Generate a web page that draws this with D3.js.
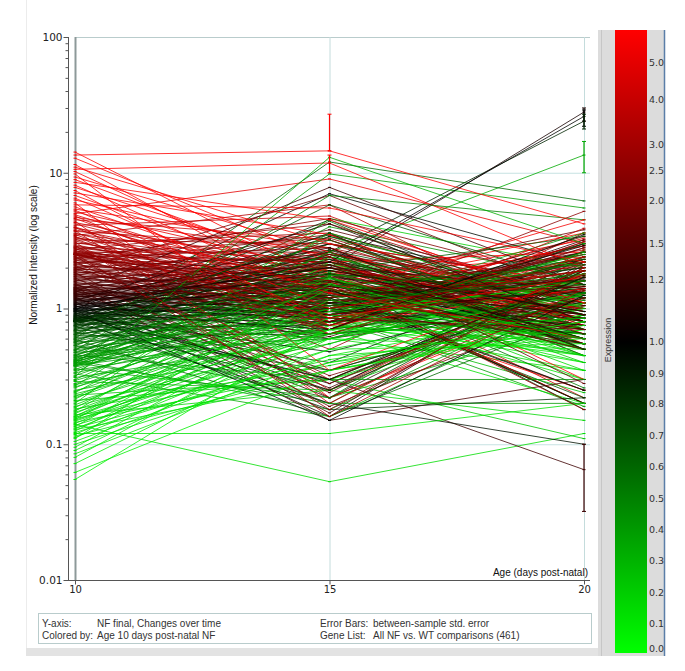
<!DOCTYPE html>
<html><head><meta charset="utf-8">
<script src="https://cdn.jsdelivr.net/npm/d3@7"></script>
<style>body{margin:0;background:#fff;} svg{display:block;font-family:"Liberation Sans",sans-serif;}</style>
</head><body><svg id="c" width="685" height="671"></svg>
<script>
const days = [10, 15, 20];
const yTicks = [0.01, 0.1, 1, 10, 100];
const yTickLabels = ["0.01", "0.1", "1", "10", "100"];
const colorTicks = [5.0, 4.0, 3.0, 2.5, 2.0, 1.5, 1.2, 1.0, 0.9, 0.8, 0.7, 0.6, 0.5, 0.4, 0.3, 0.2, 0.1, 0.0];
const colorTickLabels = ["5.0","4.0","3.0","2.5","2.0","1.5","1.2","1.0","0.9","0.8","0.7","0.6","0.5","0.4","0.3","0.2","0.1","0.0"];
const legendLabels = ["Y-axis:", "Colored by:", "Error Bars:", "Gene List:"];
const legendValues = ["NF final, Changes over time", "Age 10 days post-natal NF", "between-sample std. error", "All NF vs. WT comparisons (461)"];

// Normalized intensity per gene (estimated), day 10 / 15 / 20
const day10 = [
 14.2,13.5,12.8,11.5,11,10.6,10.2,9.8,9.3,8.9, 8.5,8.1,7.8,7.4,7.1,6.8,6.5,6.3,6.0,5.8, 5.6,5.4,5.3,5.15,5.0,
 4.9,4.8,4.7,4.6,4.5,4.4,4.3,4.2,4.1,4.0, 3.95,3.9,3.8,3.75,3.7,3.6,3.55,3.5,3.45,3.4,
 3.35,3.3,3.25,3.2,3.15,3.1,3.05,3.0,2.95,2.9, 2.88,2.85,2.82,2.8,2.77,2.74,2.71,2.68,2.65,2.62,
 2.6,2.58,2.56,2.54,2.53,2.52,2.51,2.5,2.5,2.5,
 2.48,2.45,2.42,2.4,2.38,2.35,2.33,2.3,2.28,2.25, 2.22,2.2,2.18,2.15,2.12,2.1,2.08,2.05,2.02,2.0,
 1.98,1.96,1.94,1.92,1.9,1.88,1.86,1.84,1.82,1.8, 1.78,1.76,1.74,1.72,1.7,1.68,1.66,1.64,1.62,1.6,
 1.58,1.56,1.54,1.52,1.5,1.49,1.47,1.46,1.44,1.43, 1.42,1.41,1.4,1.39,1.38,1.37,1.36,1.35,1.34,1.33,
 1.32,1.31,1.3,1.29,1.28,1.27,1.26,1.25,1.24,1.23,
 1.22,1.21,1.2,1.19,1.18,1.17,1.16,1.15,1.14,1.13, 1.12,1.11,1.1,1.09,1.08,1.07,1.06,1.05,1.04,1.03,
 1.02,1.01,1.0,0.995,0.99,0.98,0.975,0.97,0.96,0.955, 0.95,0.94,0.93,0.92,0.91,0.9,0.895,0.89,0.88,0.875,
 0.87,0.86,0.855,0.85,0.845,0.84,0.835,0.83,0.825,0.82, 0.818,0.815,0.812,0.81,0.808,0.806,0.804,0.802,0.801,0.8,
 0.79,0.78,0.77,0.76,0.75,0.745,0.74,0.73,0.72,0.71, 0.7,0.69,0.685,0.68,0.67,0.66,0.65,0.645,0.64,0.63,
 0.62,0.61,0.6,0.595,0.59,0.58,0.57,0.565,0.56,0.55, 0.54,0.535,0.53,0.52,0.51,0.5,0.495,0.49,0.48,0.475,
 0.47,0.46,0.455,0.45,0.445,0.44,0.435,0.43,0.425,0.42, 0.418,0.414,0.41,0.407,0.404,0.4,0.397,0.394,0.391,0.388,
 0.385,0.382,0.38,0.378,0.375,
 0.37,0.36,0.355,0.35,0.34,0.335,0.33,0.32,0.315,0.31, 0.3,0.295,0.29,0.28,0.275,0.27,0.265,0.26,0.25,0.245,
 0.24,0.235,0.23,0.225,0.22,0.215,0.21,0.205,0.2,0.195, 0.19,0.186,0.182,0.178,0.175,0.172,0.168,0.165,0.162,0.16,
 0.158,0.156,0.154,0.152,0.15,
 0.148,0.145,0.142,0.14,0.138,0.135,0.132,0.13,0.128,0.125, 0.122,0.12,0.118,0.115,0.112,0.11,0.105,0.1,0.095,0.09,
 0.085,0.08,0.072,0.062,0.055
];
const day15 = [
 1.6,14.5,2.2,1.1,3.0,11.8,1.4,0.35,2.6,1.8, 4.5,1.2,2.0,0.75,3.5,1.5,1.0,2.4,0.22,5.5, 1.3,2.8,0.85,1.9,9.0,
 1.3,0.8,2.5,1.0,3.2,0.2,1.8,1.4,4.8,0.9, 0.7,2.1,1.6,0.25,2.8,1.2,2.0,0.85,5.8,0.65,
 1.5,1.9,0.75,3.0,1.1,0.16,1.7,3.6,1.25,0.3, 1.45,2.3,0.95,1.8,0.5,1.15,4.2,0.8,1.6,1.05,
 2.6,0.7,1.35,2.2,0.18,1.0,1.55,0.9,3.3,1.2,
 1.0,2.2,0.22,1.4,2.8,0.8,1.6,4.6,0.95,1.9, 0.28,1.2,2.3,0.7,3.5,1.5,0.32,1.7,0.9,2.5,
 1.3,0.65,2.0,1.1,6.8,0.85,1.55,0.19,2.4,1.2, 0.75,3.2,1.4,0.95,1.9,0.24,1.25,2.2,0.8,1.6,
 3.8,1.0,0.17,1.8,1.35,0.7,2.7,1.15,0.15,1.5, 2.1,0.9,0.62,1.45,2.6,1.05,0.26,1.75,0.8,1.2,
 7.8,0.95,0.3,2.0,1.3,0.85,1.6,0.6,2.4,1.1,
 1.5,0.22,2.2,1.0,0.35,2.8,1.25,0.75,4.2,1.7, 0.16,2.0,0.9,2.0,0.65,1.4,3.5,0.25,1.1,1.8,
 3.0,0.85,1.5,0.28,2.2,0.95,7.0,0.15,1.2,2.6, 0.7,1.6,0.2,1.9,1.05,3.0,0.3,1.35,0.9,2.4,
 0.48,1.15,2.6,0.8,1.7,0.3,1.45,2.1,0.65,1.25, 4.5,0.95,0.18,1.8,0.6,1.5,2.5,0.4,1.0,3.4,
 1.4,0.25,2.3,0.9,3.6,1.1,0.2,1.8,0.75,2.7, 1.2,5.8,0.8,1.55,0.35,2.1,1.0,3.2,1.3,0.65,
 1.9,0.85,12.0,1.15,0.16,2.5,1.45,0.7,4.4,1.05, 1.7,0.22,3.0,1.25,0.8,2.0,0.95,6.8,1.35,0.6,
 2.2,1.1,0.3,1.65,4.0,0.9,1.5,0.7,2.6,1.2, 0.18,1.85,1.0,3.4,1.4,0.2,2.1,0.8,1.6,9.8,
 1.1,0.65,2.4,0.9,1.75,
 1.0,0.22,1.7,0.7,2.6,0.9,0.16,1.4,13.0,0.6, 2.0,1.0,0.25,1.2,0.65,3.6,0.8,1.5,0.55,1.1,
 2.4,0.7,0.3,1.3,0.95,1.8,0.3,0.75,4.6,1.05, 0.6,1.55,0.38,0.85,2.2,0.65,1.15,0.25,0.8,1.4,
 0.55,1.0,0.42,1.7,0.7,
 0.6,0.35,0.9,0.053,0.5,1.4,0.4,0.7,0.3,1.1, 0.45,0.12,0.8,0.35,0.65,1.7,0.5,0.4,1.0,0.7,
 0.45,0.85,0.6,0.35,0.75
];
const day20 = [
 0.9,4.2,2.6,0.25,1.5,2.0,3.2,1.8,0.7,2.4, 1.1,2.9,0.55,1.4,0.8,3.6,1.9,0.3,1.2,2.2, 4.5,0.65,1.7,1.0,3.0,
 0.6,2.4,1.1,3.3,0.75,1.8,0.22,2.7,1.0,1.5, 3.9,0.85,1.3,2.0,0.55,2.9,0.95,1.6,0.7,2.2,
 0.2,1.2,3.1,0.8,1.9,1.4,0.6,1.05,2.5,1.7, 0.9,0.5,2.1,1.25,3.6,0.7,1.1,2.3,0.18,1.45,
 0.8,2.8,1.0,0.6,1.9,5.2,0.75,1.35,0.95,2.0,
 1.9,0.7,1.3,0.5,1.1,2.6,0.8,1.5,3.4,0.6, 1.6,2.2,0.9,3.1,0.75,0.2,1.2,2.0,0.65,1.4,
 0.55,1.8,0.95,2.5,1.25,0.7,3.8,1.05,0.28,1.7, 2.3,0.8,0.6,1.35,0.9,2.0,0.25,1.15,2.8,0.75,
 1.3,0.55,2.1,0.85,1.6,3.0,0.7,1.45,0.3,1.0, 0.65,1.75,2.4,0.9,0.5,1.2,1.9,0.8,1.05,2.6,
 1.5,0.6,0.065,1.4,0.85,2.2,0.7,1.1,0.45,1.65,
 0.7,1.9,0.9,2.6,1.2,0.5,1.6,3.2,0.8,1.1, 2.2,0.6,1.4,28,1.0,0.2,1.3,2.4,0.75,0.55,
 1.5,2.9,0.65,1.8,26,0.85,2.1,1.25,0.25,1.0, 3.5,0.6,0.1,0.95,2.0,1.2,1.7,0.5,2.6,0.8,
 1.4,0.7,24,1.1,0.18,1.9,0.9,0.6,2.3,1.5, 0.8,3.0,0.22,1.3,1.9,0.55,1.0,2.2,0.65,1.2,
 0.6,1.7,0.9,2.4,0.5,1.3,2.0,0.75,3.0,1.1, 0.22,1.5,2.6,0.8,1.2,0.55,1.9,0.7,2.3,1.0,
 3.4,0.65,6.2,1.6,0.9,0.5,2.1,1.25,0.7,1.8, 0.26,2.7,1.05,0.6,1.45,0.85,2.2,4.5,0.55,1.3,
 0.95,1.9,0.3,0.7,1.6,2.5,0.8,1.15,0.45,2.0, 1.35,0.6,3.6,0.9,0.5,0.2,1.2,1.75,0.65,5.5,
 2.3,0.85,1.1,0.19,1.5,
 1.4,0.8,0.5,1.9,13.5,0.6,1.1,0.2,3.0,1.6, 0.7,0.45,1.3,2.2,0.85,1.0,0.24,0.6,1.8,0.5,
 0.9,2.6,0.11,0.7,1.5,0.4,1.2,0.55,2.0,0.75, 1.25,0.3,0.9,1.6,0.5,2.4,0.65,0.15,1.05,0.45,
 1.7,0.6,0.8,0.35,1.3,
 0.35,0.8,0.45,0.12,1.1,0.5,0.7,0.2,0.9,0.4, 0.6,0.2,0.35,0.75,1.3,0.45,0.55,0.9,0.3,0.65,
 1.0,0.4,0.5,0.7,0.45
];
// Notable large error bars: gene index, day, low, high
const errGene = [1, 158, 169, 187, 274, 137, 5];
const errDay  = [15, 20, 20, 20, 20, 20, 15];
const errLow  = [14.5, 24, 22, 21, 10, 0.032, 10];
const errHigh = [27, 30, 29, 27, 17, 0.1, 13.5];

const svg = d3.select("#c");

// page frame
svg.append("line").attr("x1",26.5).attr("x2",26.5).attr("y1",0).attr("y2",648).attr("stroke","#ececec");
svg.append("rect").attr("x",26).attr("y",648).attr("width",574).attr("height",8).attr("fill","#e3e3e3");

const x = d3.scaleLinear().domain([10,20]).range([75,584]);
const y = d3.scaleLog().domain([0.01,100]).range([580,37]);

// colour scale via colour bar position
const barTop = 30, barBot = 653;
const cPos = d3.scaleLinear()
  .domain([6.0,5.0,4.0,3.0,2.5,2.0,1.5,1.2,1.0,0.9,0.8,0.7,0.6,0.5,0.4,0.3,0.2,0.1,0.0])
  .range([30,63,100,145,171,201,244,280,342,374,404,436,467,499,530,561,593,624,653]).clamp(true);
const cCol = d3.scaleLinear().domain([barTop,342,barBot]).range(["#ff0000","#000000","#00ff00"]).clamp(true);
const colorOf = v => cCol(cPos(v));

// grid
const g = svg.append("g");
[10,1,0.1].forEach(v => g.append("line").attr("x1",75).attr("x2",590).attr("y1",y(v)+0.5).attr("y2",y(v)+0.5).attr("stroke","#c6e2e2"));
g.append("line").attr("x1",75).attr("x2",590).attr("y1",y(100)+0.5).attr("y2",y(100)+0.5).attr("stroke","#b9cccc");
[15,20].forEach(d => g.append("line").attr("x1",x(d)+0.5).attr("x2",x(d)+0.5).attr("y1",37).attr("y2",580).attr("stroke","#c4dcdc"));
g.append("line").attr("x1",x(10)+0.5).attr("x2",x(10)+0.5).attr("y1",37).attr("y2",580).attr("stroke","#8d9999").attr("stroke-width",2);

// lines
const n = Math.min(day10.length, day15.length, day20.length);
const genes = d3.range(n).map(i => ({i, v:[day10[i],day15[i],day20[i]]}));
const order = d3.range(n).map(k => (k*131) % n);
const line = d3.line().x((d,j)=>x(days[j])).y(d=>y(d));
const lg = svg.append("g");
order.forEach(k => {
  const gd = genes[k];
  const col = colorOf(gd.v[0]);
  lg.append("path").attr("d", line(gd.v)).attr("fill","none").attr("stroke",col).attr("stroke-width",0.8);
  gd.v.forEach((v,j) => {
    lg.append("line").attr("x1",x(days[j])-1.5).attr("x2",x(days[j])+1.5).attr("y1",y(v)).attr("y2",y(v)).attr("stroke",col).attr("stroke-width",1);
  });
});
// error bars
errGene.forEach((gi,k) => {
  if (gi >= n) return;
  const col = colorOf(day10[gi]);
  const xx = x(errDay[k]);
  lg.append("line").attr("x1",xx).attr("x2",xx).attr("y1",y(errLow[k])).attr("y2",y(errHigh[k])).attr("stroke",col).attr("stroke-width",1.2);
  [errLow[k],errHigh[k]].forEach(v => lg.append("line").attr("x1",xx-2).attr("x2",xx+2).attr("y1",y(v)).attr("y2",y(v)).attr("stroke",col));
});

// y axis
const minorTicks = [];
[0.01,0.1,1,10].forEach(d => { for (let m=2;m<10;m++) minorTicks.push(d*m); });
const ay = svg.append("g").attr("transform","translate(68.5,0)");
ay.append("g").call(d3.axisLeft(y).tickValues(minorTicks).tickSize(3).tickFormat(""))
  .call(s=>s.select(".domain").remove()).selectAll("line").attr("stroke","#555");
ay.append("g").call(d3.axisLeft(y).tickValues(yTicks).tickSize(5).tickFormat((d,i)=>yTickLabels[i]))
  .call(s=>s.select(".domain").remove())
  .call(s=>s.selectAll("line").attr("stroke","#555"))
  .call(s=>s.selectAll("text").attr("font-size",10.5).attr("fill","#222").attr("font-family","DejaVu Sans").attr("x",-6));
ay.append("line").attr("y1",37).attr("y2",580).attr("stroke","#555");

// x axis
const ax = svg.append("g").attr("transform","translate(0,580.5)");
ax.append("line").attr("x1",68).attr("x2",590).attr("stroke","#555");
ax.call(d3.axisBottom(x).tickValues(days).tickSize(4).tickFormat(d=>String(d)))
  .call(s=>s.select(".domain").remove())
  .call(s=>s.selectAll("line").attr("stroke","#555"))
  .call(s=>s.selectAll("text").attr("font-size",10).attr("fill","#222").attr("font-family","DejaVu Sans").attr("dy","0.55em"));

svg.append("text").attr("x",588).attr("y",576).attr("text-anchor","end").attr("font-size",10).attr("fill","#111").text("Age (days post-natal)");
svg.append("text").attr("transform","translate(37,255) rotate(-90)").attr("text-anchor","middle").attr("font-size",10).attr("fill","#111").text("Normalized Intensity (log scale)");

// legend box
svg.append("rect").attr("x",38.5).attr("y",613.5).attr("width",553).attr("height",30).attr("fill","#fff").attr("stroke","#b9cccc");
const lx = [42, 42, 320, 320], vx = [97, 97, 373, 373], ly = [627, 639, 627, 639];
legendLabels.forEach((t,i) => {
  svg.append("text").attr("x",lx[i]).attr("y",ly[i]).attr("font-size",10).attr("fill","#333").text(t);
  svg.append("text").attr("x",vx[i]).attr("y",ly[i]).attr("font-size",10).attr("fill","#333").text(legendValues[i]);
});

// colour bar panel
svg.append("rect").attr("x",598).attr("y",30).attr("width",66).attr("height",626).attr("fill","#dcdcdc");
svg.append("line").attr("x1",601.5).attr("x2",601.5).attr("y1",30).attr("y2",656).attr("stroke","#c6c6c6");
svg.append("line").attr("x1",664.5).attr("x2",664.5).attr("y1",30).attr("y2",656).attr("stroke","#5a7ea8").attr("stroke-width",1.5);
const grad = svg.append("defs").append("linearGradient").attr("id","cb").attr("gradientUnits","userSpaceOnUse")
  .attr("x1",0).attr("x2",0).attr("y1",barTop).attr("y2",barBot);
grad.append("stop").attr("offset",0).attr("stop-color","#ff0000");
grad.append("stop").attr("offset",(342-barTop)/(barBot-barTop)).attr("stop-color","#000000");
grad.append("stop").attr("offset",1).attr("stop-color","#00ff00");
svg.append("rect").attr("x",615).attr("y",barTop).attr("width",32).attr("height",barBot-barTop).attr("fill","url(#cb)");
colorTicks.forEach((v,i) => {
  svg.append("text").attr("x",649).attr("y",Math.min(cPos(v),649)).attr("dy","0.35em").attr("font-size",9.5).attr("font-family","DejaVu Sans").attr("fill","#333").text(colorTickLabels[i]);
});
svg.append("text").attr("transform","translate(611,340) rotate(-90)").attr("text-anchor","middle").attr("font-size",9).attr("fill","#333").text("Expression");
</script></body></html>
